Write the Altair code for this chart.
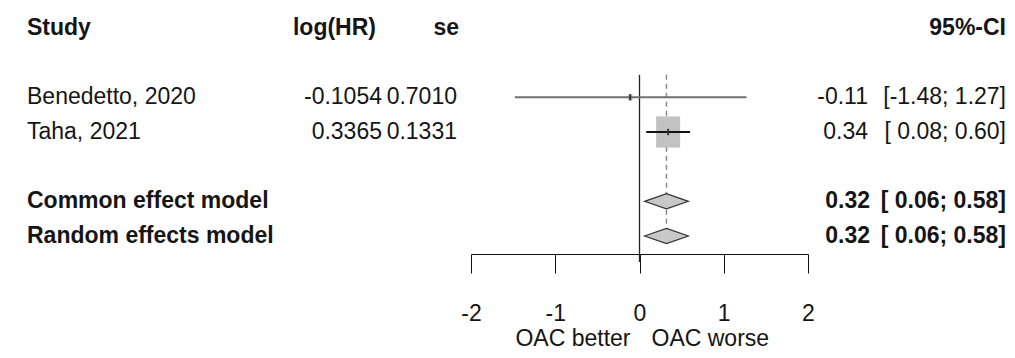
import altair as alt
import pandas as pd

# ---------------- data ----------------
studies = ["Benedetto, 2020", "Taha, 2021"]
log_hr = [-0.1054, 0.3365]
se = [0.7010, 0.1331]
study_est = [-0.11, 0.34]
study_lower = [-1.48, 0.08]
study_upper = [1.27, 0.60]
study_rows = [2, 3]

models = ["Common effect model", "Random effects model"]
model_est = [0.32, 0.32]
model_lower = [0.06, 0.06]
model_upper = [0.58, 0.58]
model_rows = [5, 6]

headers = ["Study", "log(HR)", "se", "95%-CI"]
axis_ticks = [-2, -1, 0, 1, 2]
direction_labels = ["OAC better", "OAC worse"]

# ---------------- styling ----------------
FONT = "Liberation Sans, Arial, Helvetica, sans-serif"
FS = 23
TXT = "#151515"
PLOT_H = 246
RIGHT = 998

weights = [1 / s ** 2 for s in se]

df_studies = pd.DataFrame({
    "study": studies,
    "loghr_txt": [f"{v:.4f}" for v in log_hr],
    "se_txt": [f"{v:.4f}" for v in se],
    "est": study_est,
    "lower": study_lower,
    "upper": study_upper,
    "row": study_rows,
    "weight": weights,
    "est_txt": [f"{v:.2f}" for v in study_est],
    "ci_txt": [f"[{l:5.2f}; {u:.2f}]" for l, u in zip(study_lower, study_upper)],
})

df_models = pd.DataFrame({
    "model": models,
    "est": model_est,
    "lower": model_lower,
    "upper": model_upper,
    "row": model_rows,
    "est_txt": [f"{v:.2f}" for v in model_est],
    "ci_txt": [f"[{l:5.2f}; {u:.2f}]" for l, u in zip(model_lower, model_upper)],
})

# diamond outline points derived from the model estimates
DH = 0.22
diamond_recs = []
for m, e, lo, up, r in zip(models, model_est, model_lower, model_upper, model_rows):
    diamond_recs += [
        {"model": m, "x": lo, "ylo": r, "yhi": r},
        {"model": m, "x": e, "ylo": r - DH, "yhi": r + DH},
        {"model": m, "x": up, "ylo": r, "yhi": r},
    ]
df_diamond = pd.DataFrame(diamond_recs)

xscale = alt.Scale(domain=[-2, 2], range=[463, 800], nice=False, zero=False)
yscale = alt.Scale(domain=[-0.577, 6.52], reverse=True, nice=False, zero=False)

xaxis = alt.Axis(values=axis_ticks, labelExpr="'' + datum.value", tickSize=19,
                 tickColor="#111", domainColor="#111", tickWidth=1, domainWidth=1,
                 labelFontSize=FS, labelFont=FONT, labelColor=TXT, labelPadding=29,
                 grid=False, title=None, orient="bottom", labelFlush=False,
                 labelOverlap=False)


def X(field):
    return alt.X(field, type="quantitative", scale=xscale, axis=xaxis, title=None)


def Y(field):
    return alt.Y(field, type="quantitative", scale=yscale, axis=None)


def text_layer(df, field, xpos, align, bold=False):
    return alt.Chart(df).mark_text(
        align=align, baseline="middle", font=FONT, fontSize=FS,
        fontWeight="bold" if bold else "normal", color=TXT
    ).encode(x=alt.value(xpos), y=Y("row"), text=alt.Text(f"{field}:N"))


# reference lines
df_zero = pd.DataFrame({"x": [0.0], "y": [1.35], "y2": [6.75]})
df_pool = pd.DataFrame({"x": [model_est[0]], "y": [1.35], "y2": [6.0]})

zero_line = alt.Chart(df_zero).mark_rule(color="#222", strokeWidth=1.3).encode(
    x=X("x"), y=Y("y"), y2="y2:Q")
pool_line = alt.Chart(df_pool).mark_rule(color="#8a8a8a", strokeWidth=1.5,
                                         strokeDash=[5, 4]).encode(
    x=X("x"), y=Y("y"), y2="y2:Q")

squares = alt.Chart(df_studies).mark_point(
    shape="M-1,-1.3L1,-1.3L1,1.3L-1,1.3Z", filled=True, fill="#c2c2c2",
    opacity=1, strokeWidth=0
).encode(
    x=X("est"), y=Y("row"),
    size=alt.Size("weight:Q", scale=alt.Scale(domain=[0, max(weights)], range=[0, 576]),
                  legend=None),
)

ci_lines = alt.Chart(df_studies).mark_rule(strokeWidth=2).encode(
    x=X("lower"), x2="upper:Q", y=Y("row"),
    color=alt.Color("study:N", scale=alt.Scale(domain=studies, range=["#707070", "#111111"]),
                    legend=None),
)

centers = alt.Chart(df_studies).mark_point(shape="M-0.3,-1L0.3,-1L0.3,1L-0.3,1Z", filled=True,
                                           fill="#333", opacity=1, size=40).encode(
    x=X("est"), y=Y("row"))

diamonds = alt.Chart(df_diamond).mark_area(
    fill="#c8c8c8", stroke="#333", strokeWidth=1.2, orient="vertical"
).encode(x=X("x"), y=Y("ylo"), y2="yhi:Q", detail="model:N")

# header
df_head = pd.DataFrame({"row": [0, 0, 0, 0], "label": headers})
head_layers = [
    text_layer(df_head[df_head.label == headers[0]], "label", 19, "left", True),
    text_layer(df_head[df_head.label == headers[1]], "label", 368, "right", True),
    text_layer(df_head[df_head.label == headers[2]], "label", 451, "right", True),
    text_layer(df_head[df_head.label == headers[3]], "label", RIGHT, "right", True),
]

study_text = [
    text_layer(df_studies, "study", 19, "left"),
    text_layer(df_studies, "loghr_txt", 374, "right"),
    text_layer(df_studies, "se_txt", 449, "right"),
    text_layer(df_studies, "est_txt", 860, "right"),
    text_layer(df_studies, "ci_txt", RIGHT, "right"),
]

model_text = [
    text_layer(df_models, "model", 19, "left", True),
    text_layer(df_models, "est_txt", 862, "right", True),
    text_layer(df_models, "ci_txt", RIGHT, "right", True),
]

df_dir = pd.DataFrame({"label": direction_labels, "x": [0.0, 0.0]})
dir_left = alt.Chart(df_dir[df_dir.label == direction_labels[0]]).mark_text(
    align="right", baseline="middle", font=FONT, fontSize=FS, color=TXT, dx=-9
).encode(x=X("x"), y=alt.value(331), text="label:N")
dir_right = alt.Chart(df_dir[df_dir.label == direction_labels[1]]).mark_text(
    align="left", baseline="middle", font=FONT, fontSize=FS, color=TXT, dx=12
).encode(x=X("x"), y=alt.value(331), text="label:N")

chart = alt.layer(
    pool_line, zero_line, squares, ci_lines, centers, diamonds,
    *head_layers, *study_text, *model_text, dir_left, dir_right
).properties(
    width=999, height=PLOT_H,
    padding={"left": 0, "top": 0, "right": 0, "bottom": 96},
    autosize=alt.AutoSizeParams(type="none"),
).configure_view(stroke=None)

chart.save("out.html", embed_options={"renderer": "svg", "actions": False})
